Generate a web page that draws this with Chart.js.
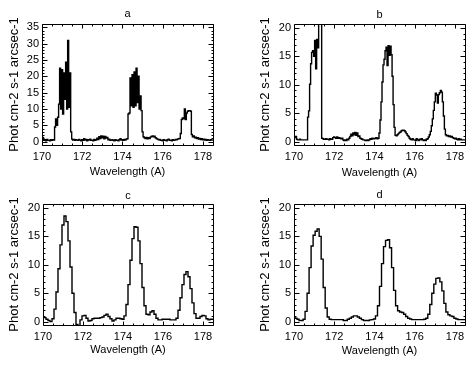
<!DOCTYPE html>
<html lang="en">
<head>
<meta charset="UTF-8">
<title>Spectra a-d</title>
<script src="https://cdn.jsdelivr.net/npm/chart.js"></script>
<style>
  body { margin: 0; background: #fff; }
  .wrap { position: relative; width: 476px; height: 366px; background: #fff; }
  .panel { position: absolute; width: 238px; height: 183px; }
</style>
</head>
<body>
<div class="wrap">
  <div class="panel" style="left:0;top:0"><canvas id="chartA"></canvas></div>
  <div class="panel" style="left:238px;top:0"><canvas id="chartB"></canvas></div>
  <div class="panel" style="left:0;top:183px"><canvas id="chartC"></canvas></div>
  <div class="panel" style="left:238px;top:183px"><canvas id="chartD"></canvas></div>
</div>
<script>
// wavelength sampling (A): a and b are sampled every 0.05 A, c and d every 0.1 A
const waveStart = 170.0;
const fineStep = 0.05;
const coarseStep = 0.1;

// a: raw spectrum
const specA = [
  1.5, 1.2, 0.4, 0.6, 0.3, 0.7, 0.4, 0.5, 0.3, 0.6,
  0.4, 0.6, 0.5, 4.5, 7.0, 5.0, 7.5, 11.5, 22.5, 10.0,
  22.0, 8.5, 21.0, 13.0, 24.3, 10.0, 31.0, 10.5, 21.0, 3.0,
  0.8, 0.5, 0.7, 0.4, 0.6, 0.5, 0.4, 0.7, 0.5, 0.3,
  0.6, 0.4, 0.9, 0.5, 0.7, 0.3, 0.6, 0.5, 0.8, 0.4,
  0.5, 0.3, 0.7, 0.4, 0.6, 1.1, 0.7, 1.5, 1.0, 1.8,
  1.2, 1.7, 0.9, 1.6, 1.1, 1.3, 0.6, 0.8, 0.4, 0.5,
  0.6, 0.4, 0.3, 0.6, 0.4, 0.5, 0.3, 0.6, 0.9, 0.5,
  0.6, 0.4, 0.7, 0.5, 0.8, 0.9, 8.5, 8.8, 19.5, 11.0,
  20.5, 10.5, 21.3, 11.0, 22.5, 12.0, 20.0, 10.0, 14.0, 9.5,
  3.0, 1.5, 1.2, 1.0, 1.3, 0.9, 1.2, 1.0, 1.4, 1.6,
  1.8, 1.5, 1.7, 1.2, 1.0, 0.8, 0.6, 0.7, 0.4, 0.5,
  0.3, 0.6, 0.4, 0.5, 0.3, 0.6, 0.8, 0.4, 0.5, 0.3,
  0.6, 0.4, 0.5, 0.7, 0.6, 0.8, 0.9, 1.0, 2.5, 6.8,
  7.3, 7.0, 10.0, 6.8, 8.8, 9.3, 9.5, 9.5, 9.3, 2.2,
  1.5, 1.8, 1.2, 1.4, 1.0, 1.2, 0.8, 1.0, 0.7, 0.9,
  0.6, 0.8, 0.5, 0.7, 0.4, 0.6, 0.5, 0.4, 0.6, 0.5, 0.5
];

// b
const specB = [
  0.8, 0.7, 0.9, 0.4, 0.3, 0.3, 0.4, 0.3, 0.3, 0.3,
  0.3, 0.3, 0.3, 0.3, 4.3, 5.4, 10.1, 13.7, 15.7, 16.0,
  15.0, 17.8, 12.8, 18.0, 16.5, 22.0, 24.0, 21.0, 0.6, 0.5,
  0.4, 0.4, 0.5, 0.4, 0.4, 0.3, 0.5, 0.4, 0.4, 0.7,
  0.8, 0.7, 0.6, 0.8, 0.6, 0.7, 0.6, 0.5, 0.6, 0.3,
  0.2, 0.3, 0.2, 0.4, 0.3, 0.6, 0.9, 1.3, 1.0, 1.5,
  1.2, 1.6, 1.1, 1.5, 0.9, 1.0, 0.6, 0.5, 0.4, 0.3,
  0.3, 0.2, 0.2, 0.3, 0.2, 0.3, 0.5, 0.4, 0.6, 0.5,
  0.5, 0.6, 0.7, 0.5, 0.6, 1.5, 3.8, 7.0, 10.5, 13.5,
  14.5, 16.0, 16.6, 13.4, 16.9, 15.2, 16.8, 15.3, 11.5, 6.5,
  2.5, 1.1, 1.0, 1.2, 1.4, 1.6, 1.7, 1.9, 2.0, 2.0,
  1.9, 1.7, 1.4, 1.1, 0.9, 0.6, 0.4, 0.3, 0.5, 0.3,
  0.3, 0.2, 0.5, 0.3, 0.2, 0.4, 0.3, 0.5, 0.3, 0.2,
  0.3, 0.2, 0.4, 0.5, 0.8, 1.2, 1.8, 2.8, 4.0, 5.5,
  7.0, 8.5, 8.2, 6.8, 8.3, 8.6, 9.0, 8.7, 7.0, 4.5,
  2.2, 1.2, 1.0, 1.1, 0.9, 1.0, 0.8, 0.9, 0.7, 0.6,
  0.5, 0.6, 0.4, 0.3, 0.5, 0.3, 0.4, 0.3, 0.3, 0.3, 0.3
];

// c
const specC = [
  0.8, 0.7, 0.4, 0.2, 0.0, 0.5, 2.2, 5.2, 9.3, 13.5,
  17.0, 18.6, 17.6, 14.2, 9.6, 5.0, 1.6, -0.5, -0.8, 0.3,
  1.0, 1.1, 0.6, 0.1, 0.2, 0.5, 0.6, 0.6, 0.6, 0.7,
  0.8, 1.1, 1.3, 0.9, 0.5, 0.1, 0.3, 0.6, 0.6, 0.5,
  0.4, 1.0, 3.0, 6.5, 10.8, 14.6, 16.7, 16.6, 14.2, 10.2,
  6.0, 2.8, 1.3, 1.2, 1.7, 1.9, 1.3, 0.6, 0.3, 0.3,
  0.4, 0.4, 0.4, 0.4, 0.3, 0.3, 0.3, 0.6, 2.0, 4.2,
  6.5, 8.3, 8.8, 7.9, 5.8, 3.3, 1.4, 0.6, 0.6, 0.9,
  1.1, 1.0, 0.5, 0.3, 0.4, 0.4
];

// d
const specD = [
  0.8, 0.6, 0.4, 0.2, 0.2, 0.4, 1.8, 5.0, 9.5, 13.3,
  15.2, 15.9, 16.3, 15.0, 11.0, 6.0, 2.4, 0.8, 0.4, 0.35,
  0.35, 0.35, 0.35, 0.35, 0.35, 0.2, 0.2, 0.4, 0.6, 0.8,
  1.0, 1.0, 0.8, 0.6, 0.35, 0.2, 0.2, 0.2, 0.3, 0.35,
  0.45, 1.0, 2.8, 6.2, 10.2, 13.2, 14.3, 14.4, 13.0, 9.5,
  5.5, 2.8, 1.9, 1.7, 1.6, 1.3, 0.9, 0.6, 0.45, 0.35,
  0.35, 0.35, 0.35, 0.35, 0.35, 0.4, 0.6, 1.3, 3.0, 5.0,
  6.6, 7.6, 7.7, 7.0, 5.4, 3.2, 1.7, 1.2, 1.0, 0.9,
  0.6, 0.45, 0.35, 0.35, 0.35, 0.35
];

// axes
const xMin = 170, xMax = 178.5;
const xTicks = [170, 172, 174, 176, 178];
const xMinorStep = 0.5;
const yTicksA = [0, 5, 10, 15, 20, 25, 30, 35];
const yTicksB = [0, 5, 10, 15, 20];
const yMinorStep = 1;

const FONT = "'Liberation Sans Narrow', 'Liberation Sans', Arial, sans-serif";

// inward IDL-style ticks on all four sides plus the frame
const idlFrame = {
  id: 'idlFrame',
  afterDatasetsDraw(chart) {
    const {ctx, chartArea: a, scales: {x, y}} = chart;
    const L = Math.round(a.left) + 0.5, R = Math.round(a.right) + 0.5;
    const T = Math.round(a.top) + 0.5, B = Math.round(a.bottom) + 0.5;
    ctx.save();
    ctx.strokeStyle = '#000';
    ctx.lineWidth = 1;
    ctx.beginPath();
    ctx.rect(L, T, R - L, B - T);
    for (let v = x.min; v <= x.max + 1e-6; v += xMinorStep) {
      const px = Math.round(x.getPixelForValue(v)) + 0.5;
      const len = xTicks.includes(+v.toFixed(2)) ? 4 : 2;
      ctx.moveTo(px, B); ctx.lineTo(px, B - len);
      ctx.moveTo(px, T); ctx.lineTo(px, T + len);
    }
    const majors = y.ticks.map(t => t.value);
    for (let v = Math.ceil(y.min); v <= y.max + 1e-6; v += yMinorStep) {
      const py = Math.round(y.getPixelForValue(v)) + 0.5;
      const len = majors.includes(v) ? 5 : 2;
      ctx.moveTo(L, py); ctx.lineTo(L + len, py);
      ctx.moveTo(R, py); ctx.lineTo(R - len, py);
    }
    ctx.stroke();
    ctx.restore();
  }
};

function makePanel(id, label, spec, step, yMin, yMax, yTicks, box) {
  const points = spec.map((v, i) => ({x: +(waveStart + i * step).toFixed(2), y: v}));
  return new Chart(document.getElementById(id), {
    type: 'line',
    data: {
      datasets: [{
        data: points,
        borderColor: '#000',
        borderWidth: 1.4,
        pointRadius: 0,
        stepped: 'middle',
        fill: false
      }]
    },
    options: {
      responsive: true,
      maintainAspectRatio: false,
      animation: false,
      events: [],
      devicePixelRatio: 1,
      layout: { padding: { left: box.padLeft, right: box.padRight, top: 0, bottom: 0 } },
      plugins: {
        legend: { display: false },
        tooltip: { enabled: false },
        title: {
          display: true,
          text: label,
          fullSize: false,
          color: '#000',
          font: { family: FONT, size: 11, weight: 'normal' },
          padding: { top: box.titleTop, bottom: box.titleBottom }
        }
      },
      scales: {
        x: {
          type: 'linear',
          min: xMin,
          max: xMax,
          grid: { display: false, drawTicks: false },
          border: { display: false },
          afterBuildTicks: s => { s.ticks = xTicks.map(v => ({value: v})); },
          afterFit: s => { s.height = box.xHeight; },
          ticks: {
            color: '#000',
            padding: 5,
            maxRotation: 0,
            autoSkip: false,
            font: { family: FONT, size: 11 },
            callback: v => String(v)
          },
          title: {
            display: true,
            text: 'Wavelength (A)',
            color: '#000',
            font: { family: FONT, size: 11 },
            padding: { top: 0, bottom: box.xTitlePad }
          }
        },
        y: {
          type: 'linear',
          min: yMin,
          max: yMax,
          grid: { display: false, drawTicks: false },
          border: { display: false },
          afterBuildTicks: s => { s.ticks = yTicks.map(v => ({value: v})); },
          afterFit: s => { s.width = box.yWidth; },
          ticks: {
            color: '#000',
            padding: 3,
            autoSkip: false,
            font: { family: FONT, size: 11 },
            callback: v => String(v)
          },
          title: {
            display: true,
            text: 'Phot cm-2 s-1 arcsec-1',
            color: '#000',
            font: { family: FONT, size: 13 },
            padding: { top: 6.2, bottom: 0 }
          }
        }
      }
    },
    plugins: [idlFrame]
  });
}

makePanel('chartA', 'a', specA, fineStep, -1, 36, yTicksA,
  {padLeft: 0, yWidth: 42, padRight: 25, titleTop: 7.7, titleBottom: 3.1, xHeight: 38, xTitlePad: 4.9});
makePanel('chartB', 'b', specB, fineStep, -0.6, 20.7, yTicksB,
  {padLeft: 13.5, yWidth: 42.5, padRight: 11, titleTop: 7.9, titleBottom: 2.9, xHeight: 38, xTitlePad: 3.9});
makePanel('chartC', 'c', specC, coarseStep, -0.6, 20.7, yTicksB,
  {padLeft: 0, yWidth: 43, padRight: 25, titleTop: 6.4, titleBottom: 1.4, xHeight: 41, xTitlePad: 9.9});
makePanel('chartD', 'd', specD, coarseStep, -0.6, 20.7, yTicksB,
  {padLeft: 13.5, yWidth: 42.5, padRight: 11, titleTop: 5.4, titleBottom: 2.4, xHeight: 41, xTitlePad: 8.9});
</script>
</body>
</html>
